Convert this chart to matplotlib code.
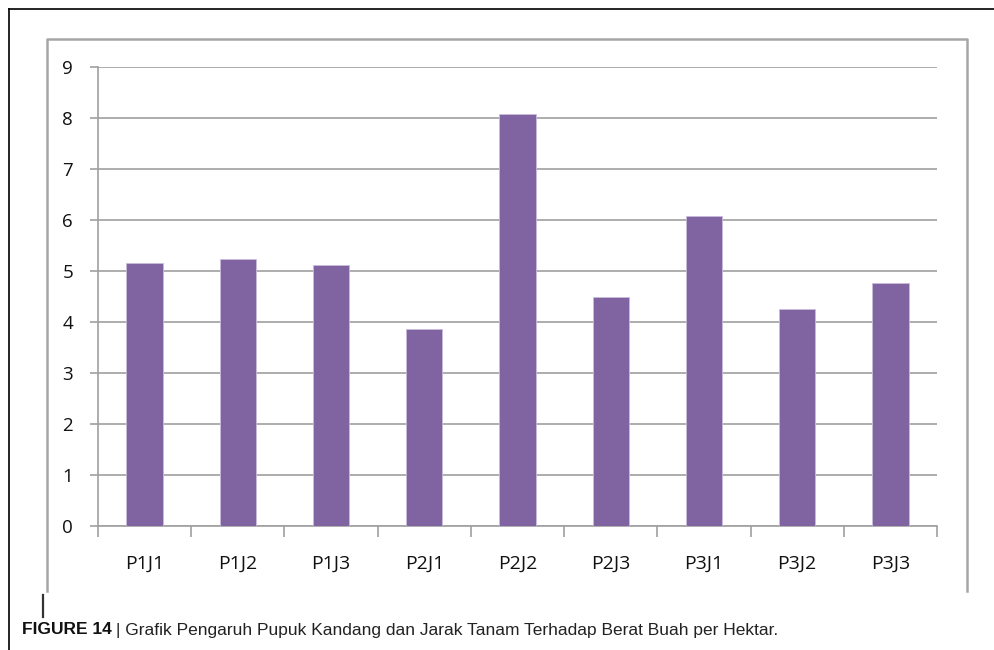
import numpy as np
import matplotlib
matplotlib.use('Agg')
import matplotlib.pyplot as plt
from matplotlib.lines import Line2D

# Treatments (pupuk kandang x jarak tanam) and fruit weight per hectare
categories = ['P1J1', 'P1J2', 'P1J3', 'P2J1', 'P2J2', 'P2J3', 'P3J1', 'P3J2', 'P3J3']
values = [5.16, 5.24, 5.12, 3.86, 8.07, 4.49, 6.08, 4.25, 4.76]
y_ticks = list(range(0, 10))

W, H = 994, 650
fig = plt.figure(figsize=(W / 100, H / 100), dpi=100)

def px(x0, y0, x1, y1):
    # pixel box -> figure fraction [left, bottom, width, height]
    return [x0 / W, 1 - y1 / H, (x1 - x0) / W, (y1 - y0) / H]

ax = fig.add_axes(px(98, 67, 937, 526))

x = np.arange(len(categories))
ax.bar(x, values, width=0.39, color='#8064A2', edgecolor='#c9bbdc', linewidth=0.6, zorder=3)

ax.set_xlim(-0.5, len(categories) - 0.5)
ax.set_ylim(0, 9)
ax.set_yticks(y_ticks)
ax.set_yticklabels([str(t) for t in y_ticks], fontsize=13.5, family='Open Sans', color='#111111')
ax.set_xticks(x)
ax.set_xticklabels(categories, fontsize=14, family='Open Sans', color='#111111')
ax.set_xticks(np.arange(-0.5, len(categories)), minor=True)

ax.grid(axis='y', color='#a0a0a0', linewidth=1.2, zorder=0)
for s in ['top', 'right']:
    ax.spines[s].set_visible(False)
for s in ['left', 'bottom']:
    ax.spines[s].set_color('#a0a0a0')
    ax.spines[s].set_linewidth(1.2)

ax.tick_params(axis='y', length=6, width=1.2, color='#a0a0a0', pad=12)
ax.tick_params(axis='x', which='major', length=0, pad=21)
ax.tick_params(axis='x', which='minor', length=8, width=1.2, color='#a0a0a0')

# black page frame
fig.add_artist(Line2D([9 / W, 1], [1 - 9 / H, 1 - 9 / H], color='black', linewidth=1.2))
fig.add_artist(Line2D([9 / W, 9 / W], [1 - 9 / H, 0], color='black', linewidth=1.2))

# gray chart box (open at the bottom)
bx = [47 / W, 47 / W, 967 / W, 967 / W]
by = [1 - 591 / H, 1 - 39 / H, 1 - 39 / H, 1 - 591 / H]
fig.add_artist(Line2D(bx, by, color='#a6a6a6', linewidth=1.8))

# small dark mark left of the caption
fig.add_artist(Line2D([43 / W, 43 / W], [1 - 595 / H, 1 - 617 / H], color='#333333', linewidth=1.6))

# caption
cap = fig.text(22 / W, 1 - 630 / H, 'FIGURE 14', fontsize=12.5, fontweight='bold',
               family='Liberation Sans', va='center', ha='left', color='#111111')
fig.canvas.draw()
bb = cap.get_window_extent()
fig.text(bb.x1 / W + 4 / W, 1 - 630 / H,
         '| Grafik Pengaruh Pupuk Kandang dan Jarak Tanam Terhadap Berat Buah per Hektar.',
         fontsize=12.5, family='Liberation Sans', va='center', ha='left', color='#222222')

fig.savefig('out.png', dpi=100)
